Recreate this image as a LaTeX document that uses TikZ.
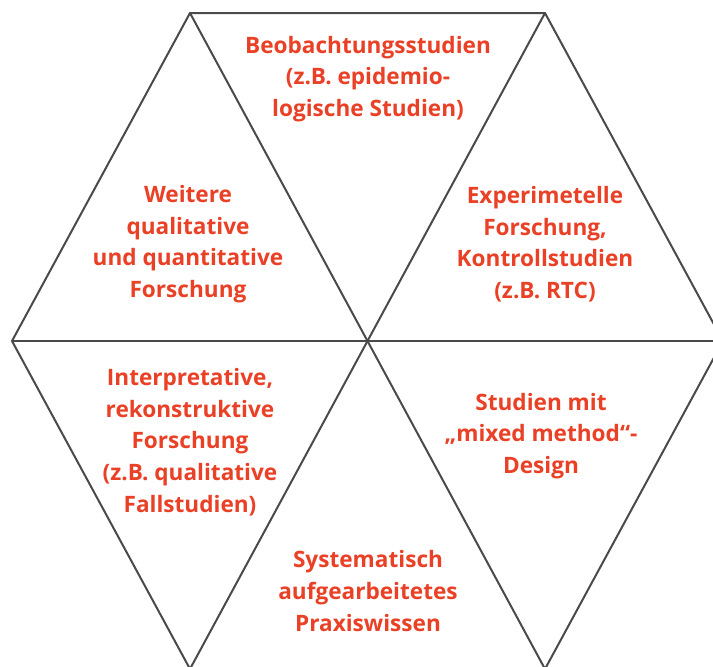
\documentclass[tikz,border=0pt]{standalone}
\usepackage{fontspec}
\setmainfont{Open Sans}
\definecolor{labelred}{RGB}{233,64,38}
\definecolor{edgegray}{RGB}{74,74,74}

\begin{document}
\begin{tikzpicture}[x=0.5pt,y=-0.5pt,
    edge/.style={edgegray,line width=1pt},
    field/.style={labelred,font=\fontsize{11.3}{15.8}\selectfont\bfseries,align=center}]
  \clip (0,0) rectangle (713,666);
  % corners of the hexagon
  \coordinate (tl) at (190,13);
  \coordinate (tr) at (545,13);
  \coordinate (r) at (723,341);
  \coordinate (br) at (545,669);
  \coordinate (bl) at (190,669);
  \coordinate (l) at (12,341);
  \coordinate (c) at (367.5,341);
  % outline and spokes
  \draw[edge,line join=miter] (tl) -- (tr) -- (r) -- (br) -- (bl) -- (l) -- cycle;
  \draw[edge] (l) -- (r);
  \draw[edge] (tl) -- (br);
  \draw[edge] (tr) -- (bl);
  % labels
  \node[field] (beob) at (368,79) {Beobachtungsstudien\\(z.B. epidemio-\\logische Studien)};
  \node[field] (weit) at (188,244) {Weitere\\qualitative\\und quantitative\\Forschung};
  \node[field] (expe) at (545,244) {Experimetelle\\Forschung,\\Kontrollstudien\\(z.B. RTC)};
  \node[field] (inte) at (190,442) {Interpretative,\\rekonstruktive\\Forschung\\(z.B. qualitative\\Fallstudien)};
  \node[field] (mixe) at (541,436) {Studien mit\\„mixed method“-\\Design};
  \node[field] (syst) at (368,591) {Systematisch\\aufgearbeitetes\\Praxiswissen};
\end{tikzpicture}
\end{document}
